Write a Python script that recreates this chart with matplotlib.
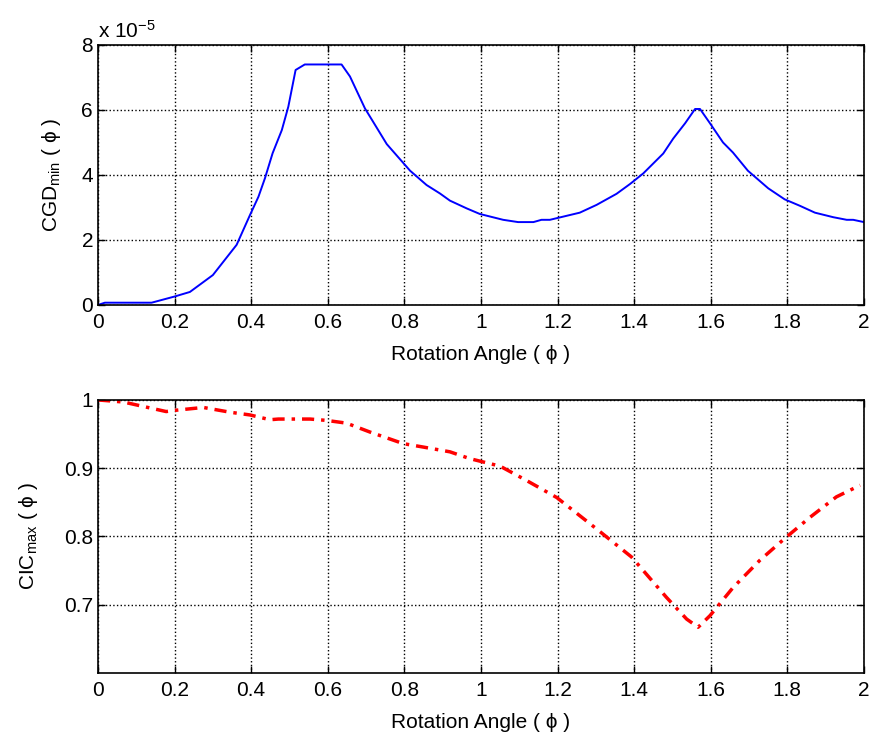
import numpy as np
import matplotlib
matplotlib.use('Agg')
import matplotlib.pyplot as plt

plt.rcParams['font.family'] = ['Liberation Sans', 'DejaVu Sans']
plt.rcParams['mathtext.fontset'] = 'custom'
plt.rcParams['mathtext.rm'] = 'Liberation Sans'
plt.rcParams['mathtext.it'] = 'Liberation Sans:italic'

# CGD_min vs rotation angle (values in units of 1e-5)
cgd_t = [0, 0.018, 0.14, 0.2, 0.24, 0.30, 0.362, 0.397, 0.419, 0.436, 0.456, 0.48,
         0.497, 0.516, 0.54, 0.636, 0.658, 0.697, 0.754, 0.78, 0.815, 0.858, 0.893,
         0.919, 0.963, 0.997, 1.058, 1.097, 1.137, 1.158, 1.18, 1.258, 1.302, 1.354,
         1.389, 1.424, 1.476, 1.502, 1.533, 1.559, 1.572, 1.598, 1.632, 1.658, 1.697,
         1.75, 1.793, 1.833, 1.872, 1.92, 1.955, 1.972, 2.0]
cgd_v = [0, 0.07, 0.07, 0.26, 0.4, 0.92, 1.85, 2.77, 3.33, 3.9, 4.67, 5.38,
         6.1, 7.23, 7.4, 7.4, 7.03, 6.05, 4.95, 4.6, 4.13, 3.69, 3.43,
         3.21, 2.97, 2.8, 2.62, 2.55, 2.55, 2.62, 2.62, 2.84, 3.08, 3.42,
         3.72, 4.05, 4.66, 5.12, 5.59, 6.03, 6.03, 5.59, 5.0, 4.69, 4.13,
         3.59, 3.25, 3.05, 2.84, 2.7, 2.62, 2.62, 2.55]

# CIC_max vs rotation angle
cic_t = [0, 0.066, 0.178, 0.205, 0.275, 0.345, 0.397, 0.449, 0.471, 0.554, 0.597,
         0.649, 0.71, 0.797, 0.849, 0.919, 0.971, 1.05, 1.119, 1.198, 1.25, 1.302,
         1.393, 1.484, 1.537, 1.567, 1.598, 1.658, 1.728, 1.793, 1.859, 1.928, 1.99]
cic_v = [1.0, 0.997, 0.983, 0.985, 0.989, 0.982, 0.978, 0.971, 0.972, 0.972, 0.970,
         0.966, 0.953, 0.936, 0.931, 0.924, 0.914, 0.903, 0.882, 0.857, 0.834, 0.811,
         0.770, 0.711, 0.679, 0.667, 0.684, 0.725, 0.765, 0.797, 0.828, 0.858, 0.875]

fig = plt.figure(figsize=(8.74, 7.42), dpi=100)
ax1 = fig.add_axes([0.1121, 0.589, 0.8764, 0.3504])
ax2 = fig.add_axes([0.1121, 0.093, 0.8764, 0.368])

fs = 15

def style(ax):
    ax.set_xlim(0, 2)
    ax.set_xticks(np.arange(0, 2.01, 0.2))
    ax.set_xticklabels(['0', '0.2', '0.4', '0.6', '0.8', '1', '1.2', '1.4', '1.6', '1.8', '2'])
    ax.grid(True, color='black', linestyle=':', linewidth=1.0)
    ax.tick_params(direction='in', top=True, right=True, labelsize=fs, length=5, width=1)
    ax.tick_params(axis='x', pad=6)
    for s in ax.spines.values():
        s.set_linewidth(1.2)
    ax.set_xlabel('Rotation Angle ( ϕ )', fontsize=fs, labelpad=9)

ax1.plot(cgd_t, cgd_v, color='blue', linewidth=1.4)
style(ax1)
ax1.set_ylim(0, 8)
ax1.set_yticks([0, 2, 4, 6, 8])
ax1.set_ylabel('CGD$_{\\mathrm{min}}$ ( ϕ )', fontsize=fs, labelpad=13)
ax1.text(0, 1.012, 'x 10$^{-5}$', transform=ax1.transAxes, fontsize=fs, va='bottom', ha='left')

ax2.plot(cic_t, cic_v, color='red', linewidth=2.5, dashes=[3.5, 2, 1, 2])
style(ax2)
ax2.set_ylim(0.6, 1.0)
ax2.set_yticks([0.7, 0.8, 0.9, 1.0])
ax2.set_yticklabels(['0.7', '0.8', '0.9', '1'])
ax2.set_ylabel('CIC$_{\\mathrm{max}}$ ( ϕ )', fontsize=fs, labelpad=17)

fig.savefig('out.png', dpi=100)
